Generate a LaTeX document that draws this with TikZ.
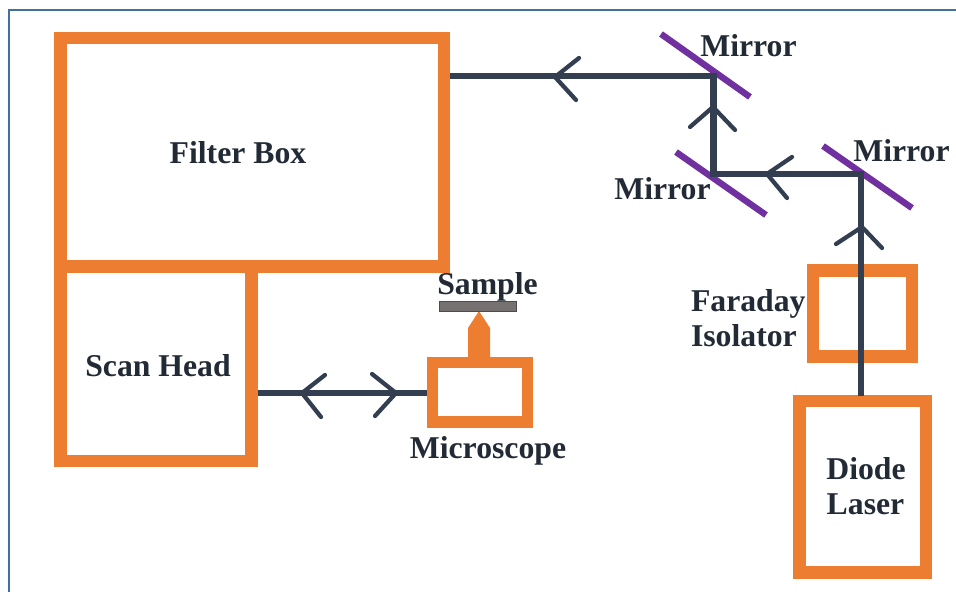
\documentclass[tikz,border=0pt]{standalone}
\usepackage{fontspec}
\setmainfont{Liberation Serif}
\definecolor{boxor}{HTML}{ED7D31}
\definecolor{beamc}{HTML}{333F50}
\definecolor{txtc}{HTML}{222A35}
\definecolor{mirc}{HTML}{7030A0}
\definecolor{framec}{HTML}{41719C}
\definecolor{samplec}{HTML}{767171}
\tikzset{
  orbox/.style={draw=boxor,line width=9.4pt,rectangle,inner sep=0pt,outer sep=0pt},
  beam/.style={draw=beamc,line width=5.2pt,line join=miter},
  vtip/.style={draw=beamc,line width=3.2pt,line join=round,line cap=round},
  mirrorbar/.style={draw=mirc,line width=4.8pt},
  lab/.style={text=txtc,font=\fontsize{23.8}{26.25}\selectfont\bfseries,inner sep=0pt,outer sep=0pt}
}
\begin{document}
\begin{tikzpicture}[x=0.75pt,y=-0.75pt]
\useasboundingbox (0,0) rectangle (956,592);
\draw[framec,line width=1.5pt] (9,592) -- (9,10) -- (956,10);
% boxes
\node[orbox,minimum width=287.625pt,minimum height=171.375pt] (filter) at (252.25,152.25) {};
\node[orbox,minimum width=143.25pt,minimum height=145.875pt] (scan) at (156,363.75) {};
\node[orbox,line width=8.8pt,minimum width=71.25pt,minimum height=44.625pt] (scope) at (480,392.25) {};
\node[orbox,minimum width=74.25pt,minimum height=64.5pt] (faraday) at (862.5,313.5) {};
\node[orbox,minimum width=94.875pt,minimum height=128.625pt] (laser) at (862.75,486.75) {};
% objective and sample
\fill[boxor] (468,362) -- (468,328) -- (479,311) -- (490,328) -- (490,362) -- cycle;
\node[draw=black!70,fill=samplec,line width=1.1pt,rectangle,inner sep=0pt,outer sep=0pt,minimum width=58.1pt,minimum height=7.5pt] (sample) at (478,306.5) {};
% mirrors
\draw[mirrorbar] (661,34) -- (750,97);
\draw[mirrorbar] (676,152) -- (766,215);
\draw[mirrorbar] (823,146) -- (912,208);
% beam
\coordinate (m1) at (713.5,76);
\coordinate (m2) at (713.5,174);
\coordinate (m3) at (861,174);
\coordinate (laserout) at (861,396);
\coordinate (filterin) at (450,76);
\coordinate (scanout) at (258,393);
\coordinate (scopein) at (427,393);
\draw[beam] (laserout) -- (m3) -- (m2) -- (m1) -- (filterin);
\draw[beam] (scanout) -- (scopein);
% arrow heads
\draw[vtip] (579,58) -- (555,77) -- (576,100);
\draw[vtip] (690,127) -- (713,107) -- (735,130);
\draw[vtip] (792,157) -- (767,174) -- (787,198);
\draw[vtip] (836,244) -- (862,227) -- (882,248);
\draw[vtip] (325,375) -- (302,393) -- (321,417);
\draw[vtip] (372,374) -- (396,393) -- (375,416);
% labels
\node[lab,anchor=base] (tfilter) at (238,163) {Filter Box};
\node[lab,anchor=base] (tscan) at (158,376) {Scan Head};
\node[lab,anchor=base] (tsample) at (487.5,294) {Sample};
\node[lab,anchor=base] (tscope) at (488,458) {Microscope};
\node[lab,anchor=base] (tm1) at (748.5,56.5) {Mirror};
\node[lab,anchor=base] (tm2) at (662.5,199) {Mirror};
\node[lab,anchor=base] (tm3) at (901.5,161) {Mirror};
\node[lab,anchor=base west] (tf1) at (691,311) {Faraday};
\node[lab,anchor=base west] (tf2) at (691,346) {Isolator};
\node[lab,anchor=base] (td1) at (866,479.5) {Diode};
\node[lab,anchor=base] (td2) at (865.5,514.5) {Laser};
\end{tikzpicture}
\end{document}
